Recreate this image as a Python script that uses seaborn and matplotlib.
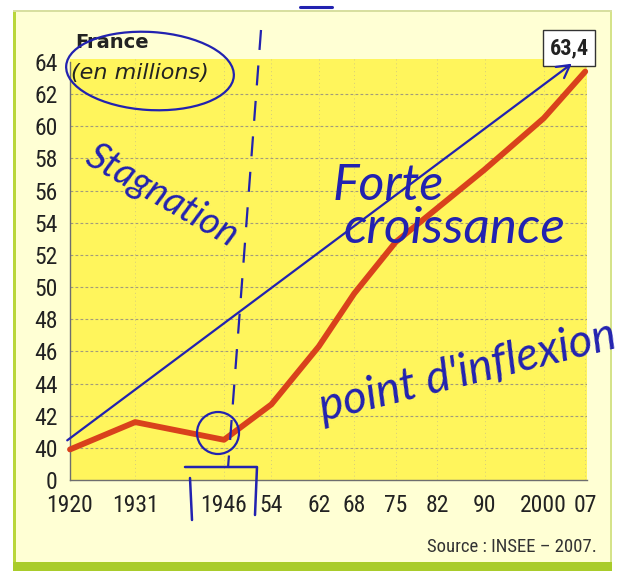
import numpy as np
import pandas as pd
import seaborn as sns
import matplotlib.pyplot as plt
from matplotlib.patches import Rectangle, Ellipse, FancyArrowPatch
from matplotlib.lines import Line2D
from matplotlib import font_manager as fm

# ---- data ----
years = [1920, 1931, 1946, 1954, 1962, 1968, 1975, 1982, 1990, 2000, 2007]
population = [39.9, 41.6, 40.5, 42.7, 46.3, 49.6, 52.8, 54.9, 57.3, 60.5, 63.4]
x_tick_labels = ["1920", "1931", "1946", "54", "62", "68", "75", "82", "90", "2000", "07"]
y_tick_values = [38, 40, 42, 44, 46, 48, 50, 52, 54, 56, 58, 60, 62, 64]
y_tick_labels = ["0", "40", "42", "44", "46", "48", "50", "52", "54", "56", "58", "60", "62", "64"]
last_value_label = "63,4"

df = pd.DataFrame({"year": years, "population": population})

sns.set_style("white")
names = sorted({f.name for f in fm.fontManager.ttflist})
narrow = None
for cand in ["Liberation Sans Narrow", "Roboto Condensed", "Open Sans Condensed", "DejaVu Sans Condensed"]:
    if cand in names:
        narrow = cand
        break
plt.rcParams["font.family"] = ([narrow] if narrow else []) + ["DejaVu Sans"]
use_stretch = "condensed" if (narrow is None) else "normal"

W, H = 627, 571
fig = plt.figure(figsize=(W / 100, H / 100), dpi=100)
fig.patch.set_facecolor("white")


def P(x, y):
    """pixel (from top-left) -> figure fraction"""
    return (x / W, 1 - y / H)


# panel background and borders
fig.patches.append(Rectangle(P(13, 571), 599 / W, 561 / H, transform=fig.transFigure,
                             facecolor="#FFFFD4", edgecolor="none", zorder=-2))
fig.patches.append(Rectangle(P(13, 571), 3 / W, 561 / H, transform=fig.transFigure,
                             facecolor="#B9D63A", edgecolor="none", zorder=-1))
fig.patches.append(Rectangle(P(610, 571), 2 / W, 561 / H, transform=fig.transFigure,
                             facecolor="#D5E38A", edgecolor="none", zorder=-1))
fig.patches.append(Rectangle(P(13, 12), 599 / W, 2 / H, transform=fig.transFigure,
                             facecolor="#D8DFA0", edgecolor="none", zorder=-1))
fig.patches.append(Rectangle(P(13, 571), 599 / W, 9 / H, transform=fig.transFigure,
                             facecolor="#A9CC2A", edgecolor="none", zorder=-1))

ax = fig.add_axes([70 / W, (571 - 480) / H, 517 / W, 421 / H])
ax.set_zorder(2)
ax.set_facecolor("#FFF55C")

sns.lineplot(data=df, x="year", y="population", ax=ax, color="#D9411C",
             linewidth=4.2, solid_capstyle="round", zorder=4)
for l in ax.lines:
    l.set_clip_on(False)

ax.set_xlim(1920, 2007.3)
ax.set_ylim(38, 64.18)
ax.set_xticks(years)
ax.set_xticklabels(x_tick_labels)
ax.set_yticks(y_tick_values)
ax.set_yticklabels(y_tick_labels)
ax.set_xlabel("")
ax.set_ylabel("")

for yv in y_tick_values[1:-1]:
    ax.axhline(yv, color="#A39B7A", linestyle=(0, (2.5, 2)), linewidth=0.8, zorder=2)
for xv in years[1:]:
    ax.axvline(xv, color="#D6CC7C", linestyle=(0, (1, 3)), linewidth=0.7, zorder=2)

for side in ["top", "right"]:
    ax.spines[side].set_visible(False)
for side in ["left", "bottom"]:
    ax.spines[side].set_color("#6E6E6E")
    ax.spines[side].set_linewidth(1.0)
ax.spines["left"].set_bounds(38, 64)

ax.tick_params(axis="both", which="both", direction="out", length=6, width=1,
               color="#6E6E6E", labelsize=17, labelcolor="#222222", pad=3)
ax.tick_params(axis="x", pad=4)
for t in ax.get_xticklabels() + ax.get_yticklabels():
    t.set_fontstretch(use_stretch)

# titles / labels
fig.text(*P(75, 42), "France", fontsize=14, fontweight="bold", color="#222222",
         va="center", ha="left", zorder=6, family="DejaVu Sans")
fig.text(*P(71, 73), "(en millions)", fontsize=16, fontstyle="italic", color="#222222",
         va="center", ha="left", zorder=6, family="DejaVu Sans")
fig.text(*P(569, 48), last_value_label, fontsize=16, fontweight="bold", color="#222222",
         va="center", ha="center", zorder=6, fontstretch=use_stretch,
         bbox=dict(boxstyle="square,pad=0.3", facecolor="white", edgecolor="#333333", linewidth=1))
fig.text(*P(597, 547), "Source : INSEE \u2013 2007.", fontsize=13.5, color="#333333",
         va="center", ha="right", zorder=6, fontstretch=use_stretch)

# ---- handwritten annotations (blue pen) ----
pen = "#2222B0"
hand = dict(color=pen, family=["Lato", "DejaVu Sans"], fontstyle="italic", zorder=8)

fig.text(*P(162, 196), "Stagnation", fontsize=27, rotation=-30,
         ha="center", va="center", rotation_mode="anchor", **hand)
fig.text(*P(388, 186), "Forte", fontsize=36, ha="center", va="center", **hand)
fig.text(*P(455, 229), "croissance", fontsize=37, ha="center", va="center", **hand)
fig.text(*P(468, 372), "point d'inflexion", fontsize=33, rotation=14,
         ha="center", va="center", rotation_mode="anchor", **hand)

fig.patches.append(FancyArrowPatch(P(65, 442), P(574, 62), transform=fig.transFigure,
                                   arrowstyle="->,head_length=9,head_width=5",
                                   color=pen, linewidth=1.6, zorder=8))
fig.lines.append(Line2D([261 / W, 228 / W], [1 - 30 / H, 1 - 468 / H], transform=fig.transFigure,
                        color=pen, linewidth=1.6, linestyle=(0, (9, 7)), zorder=8))
fig.patches.append(Ellipse(P(218, 433), 42 / W, 42 / H, transform=fig.transFigure,
                           facecolor="none", edgecolor=pen, linewidth=1.6, zorder=8))
fig.patches.append(Ellipse(P(150, 71), 168 / W, 78 / H, angle=-4, transform=fig.transFigure,
                           facecolor="none", edgecolor=pen, linewidth=1.6, zorder=8))
fig.lines.append(Line2D([185 / W, 257 / W, 255 / W], [1 - 467 / H, 1 - 467 / H, 1 - 515 / H],
                        transform=fig.transFigure, color=pen, linewidth=1.8, zorder=8))
fig.lines.append(Line2D([190 / W, 192 / W], [1 - 478 / H, 1 - 520 / H],
                        transform=fig.transFigure, color=pen, linewidth=1.8, zorder=8))
fig.lines.append(Line2D([300 / W, 332 / W], [1 - 7 / H, 1 - 7 / H],
                        transform=fig.transFigure, color=pen, linewidth=2.2, zorder=8))

fig.savefig("out.png", dpi=100)
